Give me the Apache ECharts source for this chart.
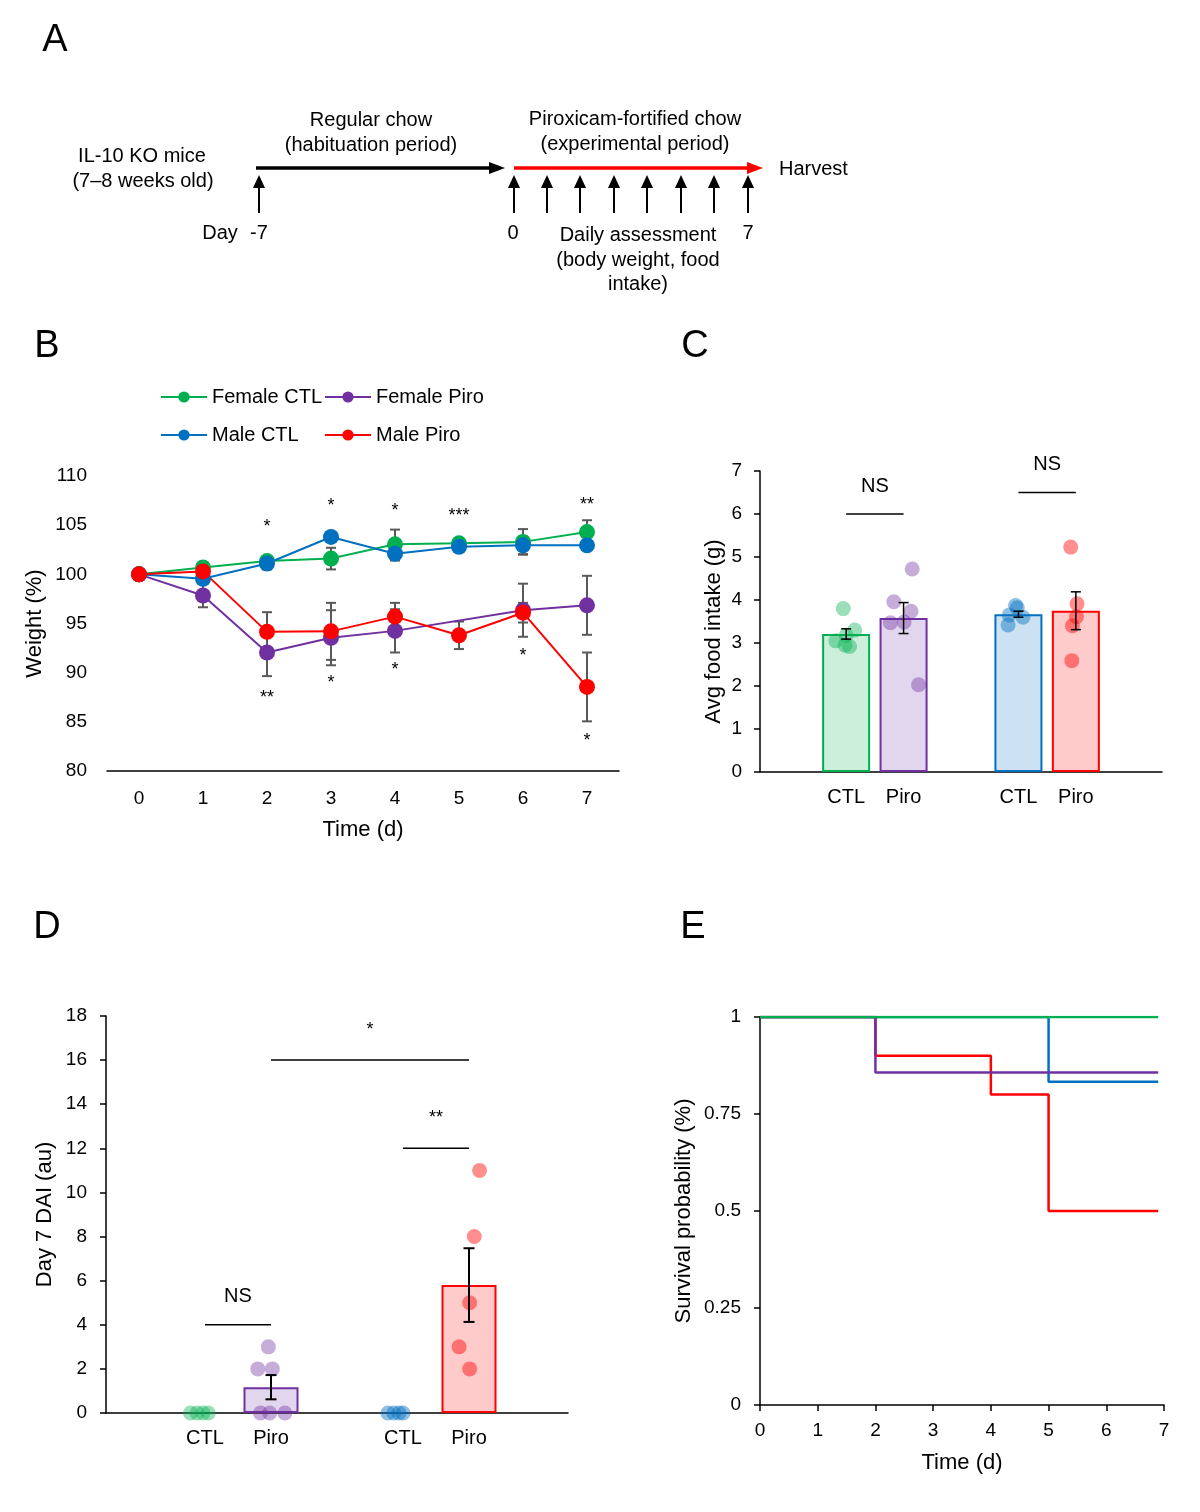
<!DOCTYPE html>
<html>
<head>
<meta charset="utf-8">
<script src="https://cdn.jsdelivr.net/npm/echarts@6/dist/echarts.min.js"></script>
<style>
html, body { margin: 0; background: #fff; }
#main { width: 1200px; height: 1512px; }
</style>
</head>
<body>
<div id="main"></div>
<script>
// ---- panel B: body weight over time ----
var days = ['0', '1', '2', '3', '4', '5', '6', '7'];
var femaleCtl = [100, 100.7, 101.35, 101.6, 103.05, 103.15, 103.3, 104.3];
var femaleCtlErr = [0, 0.4, 0.5, 1.1, 1.5, 0.2, 1.3, 1.2];
var femalePiro = [100, 97.85, 92.05, 93.55, 94.25, null, 96.35, 96.85];
var femalePiroErr = [0, 1.2, 2.4, 2.8, 2.2, 0, 2.7, 3.0];
var maleCtl = [100, 99.55, 101.1, 103.8, 102.1, 102.8, 102.95, 102.95];
var maleCtlErr = [0, 0.3, 0.6, 0.5, 0.7, 0.3, 0.9, 0.4];
var malePiro = [100, 100.3, 94.15, 94.2, 95.7, 93.8, 96.1, 88.55];
var malePiroErr = [0, 0.3, 2.0, 2.9, 1.4, 1.4, 1.0, 3.5];
// significance marks: [day, level, text]
var weightSig = [[2, 105.25, '*'], [3, 107.35, '*'], [4, 106.85, '*'], [5, 106.3, '***'], [7, 107.5, '**'],
                 [2, 87.8, '**'], [3, 89.35, '*'], [4, 90.7, '*'], [6, 92.05, '*'], [7, 83.5, '*']];

// ---- panel C: food intake ----
var groups = ['', 'CTL', 'Piro', '', 'CTL', 'Piro', ''];
var foodMean = [null, 3.21, 3.58, null, 3.67, 3.75, null];
var foodErr = [0, 0.12, 0.36, 0, 0.07, 0.44, 0];
var foodFemaleCtl = [3.8, 3.3, 3.18, 3.05, 2.95, 2.92];
var foodFemalePiro = [4.72, 3.96, 3.74, 3.49, 3.47, 2.03];
var foodMaleCtl = [3.87, 3.82, 3.65, 3.6, 3.42];
var foodMalePiro = [5.23, 3.91, 3.61, 3.4, 2.59];
var foodBrackets = [[1, 2, 6, 'NS'], [4, 5, 6.5, 'NS']];

// ---- panel D: day 7 DAI ----
var daiMean = [null, 0, 1.17, null, 0, 5.8, null];
var daiErr = [0, 0, 0.55, 0, 0, 1.67, 0];
var daiFemaleCtl = [0, 0, 0, 0];
var daiFemalePiro = [3, 2, 2, 0, 0, 0];
var daiMaleCtl = [0, 0, 0, 0];
var daiMalePiro = [11, 8, 5, 3, 2];
var daiBrackets = [[1, 2, 4, 'NS'], [2, 5, 16, '*'], [4, 5, 12, '**']];

// ---- panel E: survival ----
var survFemaleCtl = [[0, 1], [6.9, 1]];
var survFemalePiro = [[0, 1], [2, 0.857], [6.9, 0.857]];
var survMaleCtl = [[0, 1], [5, 0.833], [6.9, 0.833]];
var survMalePiro = [[0, 1], [2, 0.9], [4, 0.8], [5, 0.5], [6.9, 0.5]];

// dot spread within a bar (fraction of category width)
var jitFoodFC = [-0.05, 0.15, 0.0, -0.18, -0.02, 0.06];
var jitFoodFP = [0.15, -0.17, 0.13, 0.01, -0.23, 0.26];
var jitFoodMC = [-0.05, -0.02, -0.16, 0.08, -0.18];
var jitFoodMP = [-0.09, 0.02, 0.01, -0.06, -0.07];
var jitDaiFC = [-0.22, -0.12, -0.03, 0.05];
var jitDaiFP = [-0.04, -0.2, 0.02, -0.16, -0.02, 0.21];
var jitDaiMC = [-0.23, -0.14, -0.06, 0.0];
var jitDaiMP = [0.16, 0.08, 0.01, -0.15, 0.01];

var FONT = "'Liberation Sans', Arial, sans-serif";
var GREEN = '#00b050', PURPLE = '#7030a0', BLUE = '#0070c0', RED = '#ff0000';
var barFill = ['', '#ccefdc', '#e2d6ee', '', '#cce2f2', '#ffcaca', ''];
var barStroke = ['', GREEN, PURPLE, '', BLUE, RED, ''];
var dotFill = {g: 'rgba(0,176,80,0.5)', p: 'rgba(112,48,160,0.5)', b: 'rgba(0,112,192,0.55)', r: 'rgba(255,0,0,0.55)'};

function errData(vals, errs) {
    var out = [];
    vals.forEach(function (v, i) {
        if (v != null && errs[i] > 0) out.push([i, v - errs[i], v + errs[i]]);
    });
    return out;
}

function errRender(cap, color, width) {
    return function (params, api) {
        var a = api.coord([api.value(0), api.value(2)]);
        var b = api.coord([api.value(0), api.value(1)]);
        var st = {stroke: color, lineWidth: width};
        return {type: 'group', children: [
            {type: 'line', shape: {x1: a[0], y1: a[1], x2: b[0], y2: b[1]}, style: st},
            {type: 'line', shape: {x1: a[0] - cap, y1: a[1], x2: a[0] + cap, y2: a[1]}, style: st},
            {type: 'line', shape: {x1: b[0] - cap, y1: b[1], x2: b[0] + cap, y2: b[1]}, style: st}
        ]};
    };
}

function bracketSeries(list, xIdx, yIdx) {
    return {
        type: 'custom', xAxisIndex: xIdx, yAxisIndex: yIdx, z: 5,
        data: list.map(function (d) { return [d[0] + 0.5, d[1] + 0.5, d[2]]; }),
        renderItem: function (params, api) {
            var a = api.coord([api.value(0), api.value(2)]);
            var b = api.coord([api.value(1), api.value(2)]);
            var txt = list[params.dataIndex][3];
            var star = txt.charAt(0) === '*';
            return {type: 'group', children: [
                {type: 'line', shape: {x1: a[0], y1: a[1], x2: b[0], y2: b[1]}, style: {stroke: '#000', lineWidth: 1.5}},
                {type: 'text', x: (a[0] + b[0]) / 2, y: a[1] - (star ? 30 : 28),
                 style: {text: txt, fill: '#000', font: (star ? 18 : 20) + 'px ' + FONT, align: 'center', verticalAlign: 'middle'}}
            ]};
        }
    };
}

function dotSeries(vals, jit, cat, color, xIdx, yIdx) {
    return {
        type: 'scatter', xAxisIndex: xIdx, yAxisIndex: yIdx, z: 3,
        symbolSize: 15, itemStyle: {color: color},
        data: vals.map(function (v, k) { return [cat + 0.5 + jit[k], v]; })
    };
}

function barData(means) {
    return means.map(function (v, i) {
        if (v == null) return null;
        if (v === 0) return {value: 0, itemStyle: {color: 'transparent', borderWidth: 0}};
        return {value: v, itemStyle: {color: barFill[i], borderColor: barStroke[i], borderWidth: 2}};
    });
}

var axisBase = {
    axisLine: {lineStyle: {color: '#000', width: 1.5}},
    axisTick: {lineStyle: {color: '#000', width: 1.5}, length: 6},
    splitLine: {show: false},
    axisLabel: {color: '#000', fontSize: 19, fontFamily: FONT},
    nameTextStyle: {color: '#000', fontSize: 22, fontFamily: FONT}
};
function ax(extra) { return Object.assign({}, JSON.parse(JSON.stringify(axisBase)), extra); }
function lbl(size, margin) { return {color: '#000', fontSize: size, fontFamily: FONT, margin: margin, interval: 0}; }

function lineSeries(name, data, color) {
    return {
        name: name, type: 'line', xAxisIndex: 0, yAxisIndex: 0, data: data,
        connectNulls: true, symbol: 'circle', symbolSize: 16, z: 2,
        itemStyle: {color: color}, lineStyle: {color: color, width: 2}
    };
}
function legendAt(name, left, top) {
    return {
        data: [name], left: left, top: top, padding: 0, itemWidth: 46, itemHeight: 14, itemGap: 0,
        textStyle: {color: '#000', fontSize: 20, fontFamily: FONT}
    };
}

function survSeries(data, color) {
    return {
        type: 'line', step: 'end', xAxisIndex: 5, yAxisIndex: 3, data: data,
        symbol: 'none', lineStyle: {color: color, width: 2.5}, itemStyle: {color: color}
    };
}

// panel A schematic
function t(x, y, s, size) {
    return {type: 'text', x: x, y: y, style: {text: s, fill: '#000', font: (size || 20) + 'px ' + FONT, align: 'center', verticalAlign: 'middle'}};
}
function upArrow(x) {
    return [
        {type: 'line', shape: {x1: x, y1: 213, x2: x, y2: 186}, style: {stroke: '#000', lineWidth: 2}},
        {type: 'polygon', shape: {points: [[x - 6, 188], [x, 175], [x + 6, 188]]}, style: {fill: '#000'}}
    ];
}
var graphics = [
    t(55, 41, 'A', 38), t(47, 347, 'B', 38), t(695, 347, 'C', 38), t(47, 928, 'D', 38), t(693, 928, 'E', 38),
    t(142, 156, 'IL-10 KO mice'), t(143, 181, '(7\u20138 weeks old)'),
    t(371, 120, 'Regular chow'), t(371, 145, '(habituation period)'),
    t(635, 119, 'Piroxicam-fortified chow'), t(635, 144, '(experimental period)'),
    {type: 'text', x: 779, y: 169, style: {text: 'Harvest', fill: '#000', font: '20px ' + FONT, align: 'left', verticalAlign: 'middle'}},
    t(220, 233, 'Day'), t(259, 233, '-7'), t(513, 233, '0'), t(748, 233, '7'),
    t(638, 235, 'Daily assessment'), t(638, 260, '(body weight, food'), t(638, 284, 'intake)'),
    {type: 'line', shape: {x1: 256, y1: 168, x2: 492, y2: 168}, style: {stroke: '#000', lineWidth: 3.3}},
    {type: 'polygon', shape: {points: [[489, 162], [505, 168], [489, 174]]}, style: {fill: '#000'}},
    {type: 'line', shape: {x1: 514, y1: 168, x2: 750, y2: 168}, style: {stroke: RED, lineWidth: 3.3}},
    {type: 'polygon', shape: {points: [[747, 162], [763, 168], [747, 174]]}, style: {fill: RED}}
];
[259, 514, 547, 580, 614, 647, 681, 714, 748].forEach(function (x) { graphics = graphics.concat(upArrow(x)); });

var option = {
    animation: false,
    backgroundColor: '#fff',
    textStyle: {fontFamily: FONT},
    graphic: graphics,
    legend: [
        legendAt('Female CTL', 160, 387), legendAt('Female Piro', 324, 387),
        legendAt('Male CTL', 160, 425), legendAt('Male Piro', 324, 425)
    ],
    grid: [
        {left: 107, top: 476, width: 512, height: 295},
        {left: 760, top: 471, width: 402, height: 301},
        {left: 106, top: 1016, width: 462, height: 397},
        {left: 760, top: 1017, width: 404, height: 388}
    ],
    xAxis: [
        ax({gridIndex: 0, type: 'category', data: days, boundaryGap: true,
            axisTick: {alignWithLabel: true, length: 6, lineStyle: {color: '#000', width: 1.5}},
            axisLabel: lbl(19, 18), name: 'Time (d)', nameLocation: 'middle', nameGap: 48}),
        ax({gridIndex: 1, type: 'category', data: groups, boundaryGap: true, axisTick: {show: false},
            axisLabel: lbl(20, 15)}),
        {gridIndex: 1, type: 'value', min: 0, max: 7, show: false},
        ax({gridIndex: 2, type: 'category', data: groups, boundaryGap: true, axisTick: {show: false},
            axisLabel: lbl(20, 15)}),
        {gridIndex: 2, type: 'value', min: 0, max: 7, show: false},
        ax({gridIndex: 3, type: 'value', min: 0, max: 7, interval: 1,
            axisLabel: lbl(19, 16), name: 'Time (d)', nameLocation: 'middle', nameGap: 47})
    ],
    yAxis: [
        ax({gridIndex: 0, type: 'value', min: 80, max: 110, interval: 5,
            axisLabel: lbl(19, 20), name: 'Weight (%)', nameLocation: 'middle', nameGap: 61}),
        ax({gridIndex: 1, type: 'value', min: 0, max: 7, interval: 1,
            axisLabel: lbl(19, 18), name: 'Avg food intake (g)', nameLocation: 'middle', nameGap: 35,
            nameTextStyle: {color: '#000', fontSize: 22, fontFamily: FONT, padding: [0, 20, 0, 0]}}),
        ax({gridIndex: 2, type: 'value', min: 0, max: 18, interval: 2,
            axisLabel: lbl(19, 19), name: 'Day 7 DAI (au)', nameLocation: 'middle', nameGap: 50}),
        ax({gridIndex: 3, type: 'value', min: 0, max: 1, interval: 0.25,
            axisLabel: lbl(19, 19), name: 'Survival probability (%)', nameLocation: 'middle', nameGap: 65})
    ],
    series: [
        // B error bars
        {type: 'custom', xAxisIndex: 0, yAxisIndex: 0, z: 1, renderItem: errRender(5, '#595959', 2), data: errData(femaleCtl, femaleCtlErr)},
        {type: 'custom', xAxisIndex: 0, yAxisIndex: 0, z: 1, renderItem: errRender(5, '#595959', 2), data: errData(femalePiro, femalePiroErr)},
        {type: 'custom', xAxisIndex: 0, yAxisIndex: 0, z: 1, renderItem: errRender(5, '#595959', 2), data: errData(maleCtl, maleCtlErr)},
        {type: 'custom', xAxisIndex: 0, yAxisIndex: 0, z: 1, renderItem: errRender(5, '#595959', 2), data: errData(malePiro, malePiroErr)},
        lineSeries('Female CTL', femaleCtl, GREEN),
        lineSeries('Female Piro', femalePiro, PURPLE),
        lineSeries('Male CTL', maleCtl, BLUE),
        lineSeries('Male Piro', malePiro, RED),
        {type: 'custom', xAxisIndex: 0, yAxisIndex: 0, z: 5, data: weightSig.map(function (d) { return [d[0], d[1]]; }),
         renderItem: function (params, api) {
             var p = api.coord([api.value(0), api.value(1)]);
             return {type: 'text', x: p[0], y: p[1] + 4,
                     style: {text: weightSig[params.dataIndex][2], fill: '#000', font: '18px ' + FONT, align: 'center', verticalAlign: 'middle'}};
         }},

        // C
        {type: 'bar', xAxisIndex: 1, yAxisIndex: 1, barWidth: 48, z: 2, data: barData(foodMean)},
        dotSeries(foodFemaleCtl, jitFoodFC, 1, dotFill.g, 2, 1),
        dotSeries(foodFemalePiro, jitFoodFP, 2, dotFill.p, 2, 1),
        dotSeries(foodMaleCtl, jitFoodMC, 4, dotFill.b, 2, 1),
        dotSeries(foodMalePiro, jitFoodMP, 5, dotFill.r, 2, 1),
        {type: 'custom', xAxisIndex: 1, yAxisIndex: 1, z: 4, renderItem: errRender(5, '#000', 1.5), data: errData(foodMean, foodErr)},
        bracketSeries(foodBrackets, 2, 1),

        // D
        {type: 'bar', xAxisIndex: 3, yAxisIndex: 2, barWidth: 55, z: 2, data: barData(daiMean)},
        dotSeries(daiFemaleCtl, jitDaiFC, 1, dotFill.g, 4, 2),
        dotSeries(daiFemalePiro, jitDaiFP, 2, dotFill.p, 4, 2),
        dotSeries(daiMaleCtl, jitDaiMC, 4, dotFill.b, 4, 2),
        dotSeries(daiMalePiro, jitDaiMP, 5, dotFill.r, 4, 2),
        {type: 'custom', xAxisIndex: 3, yAxisIndex: 2, z: 4, renderItem: errRender(5.5, '#000', 2), data: errData(daiMean, daiErr)},
        bracketSeries(daiBrackets, 4, 2),

        // E
        survSeries(survMalePiro, RED),
        survSeries(survMaleCtl, BLUE),
        survSeries(survFemalePiro, PURPLE),
        survSeries(survFemaleCtl, GREEN)
    ]
};

var myChart = echarts.init(document.getElementById('main'));
myChart.setOption(option);
</script>
</body>
</html>
